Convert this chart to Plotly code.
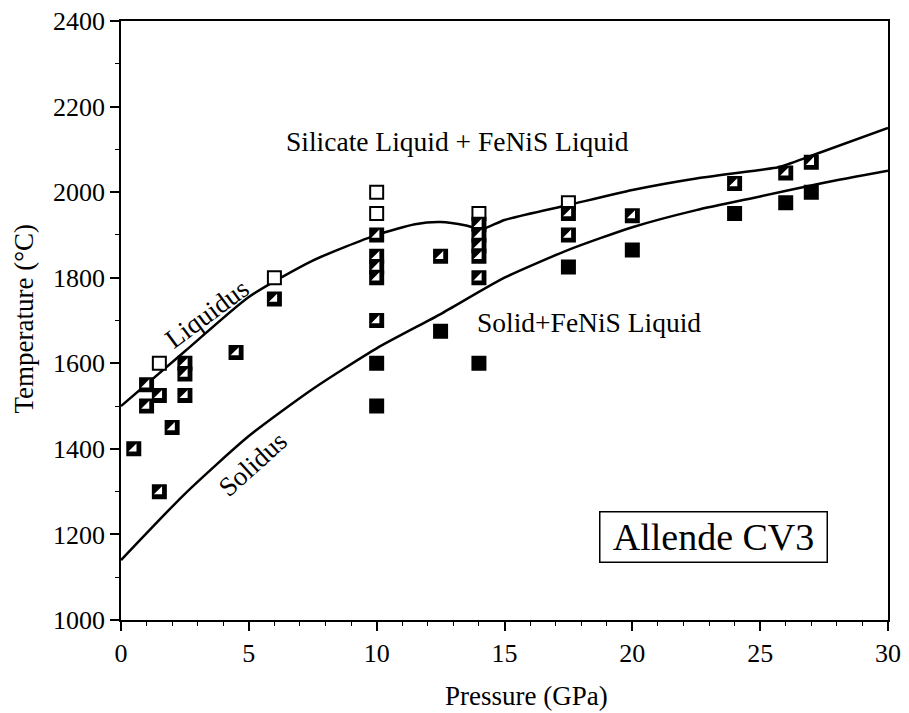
import plotly.graph_objects as go

# ---- data ----
open_x = [1.5, 6, 10, 10, 14, 17.5]
open_y = [1600, 1800, 2000, 1950, 1950, 1975]

half_x = [0.5, 1, 1, 1.5, 1.5, 2, 2.5, 2.5, 2.5, 4.5, 6,
          10, 10, 10, 10, 10, 12.5, 14, 14, 14, 14, 14,
          17.5, 17.5, 20, 24, 26, 27]
half_y = [1400, 1550, 1500, 1525, 1300, 1450, 1600, 1575, 1525, 1625, 1750,
          1900, 1850, 1825, 1800, 1700, 1850, 1925, 1900, 1875, 1850, 1800,
          1950, 1900, 1945, 2020, 2045, 2070]

filled_x = [10, 10, 12.5, 14, 17.5, 20, 24, 26, 27]
filled_y = [1600, 1500, 1675, 1600, 1825, 1865, 1950, 1975, 2000]

liquidus_x = [0, 2.5, 5, 7.5, 10, 11.5, 12.5, 13.5, 14.1, 15, 17.5, 20, 22.5, 25, 25.7, 27, 30]
liquidus_y = [1500, 1628, 1755, 1840, 1900, 1925, 1930, 1922, 1913, 1935, 1970, 2005, 2032, 2052, 2058, 2085, 2150]

solidus_x = [0, 2.5, 5, 7.5, 10, 12.5, 15, 17.5, 20, 22.5, 25, 27.5, 30]
solidus_y = [1140, 1295, 1430, 1540, 1635, 1715, 1800, 1865, 1918, 1958, 1990, 2022, 2050]

x_ticks = [0, 5, 10, 15, 20, 25, 30]
y_ticks = [1000, 1200, 1400, 1600, 1800, 2000, 2200, 2400]

FONT = "Liberation Serif, Times New Roman, serif"

fig = go.Figure()

fig.add_trace(go.Scatter(x=liquidus_x, y=liquidus_y, mode="lines",
                         line=dict(color="black", width=2.5, shape="spline", smoothing=0.6),
                         hoverinfo="skip", showlegend=False))
fig.add_trace(go.Scatter(x=solidus_x, y=solidus_y, mode="lines",
                         line=dict(color="black", width=2.5, shape="spline", smoothing=0.6),
                         hoverinfo="skip", showlegend=False))

# open squares
fig.add_trace(go.Scatter(x=open_x, y=open_y, mode="markers",
                         marker=dict(symbol="square", size=13, color="white",
                                     line=dict(color="black", width=2)),
                         showlegend=False))
# half-filled squares: black square with white lower-right triangle
fig.add_trace(go.Scatter(x=half_x, y=half_y, mode="markers",
                         marker=dict(symbol="square", size=13, color="black",
                                     line=dict(color="black", width=2)),
                         showlegend=False))
fig.add_trace(go.Scatter(x=half_x, y=half_y, mode="markers",
                         marker=dict(symbol="triangle-se", size=9, color="white",
                                     line=dict(width=0)),
                         hoverinfo="skip", showlegend=False))
# filled squares
fig.add_trace(go.Scatter(x=filled_x, y=filled_y, mode="markers",
                         marker=dict(symbol="square", size=13, color="black",
                                     line=dict(color="black", width=2)),
                         showlegend=False))

annos = [
    dict(x=13.17, y=2119, text="Silicate Liquid + FeNiS Liquid", xref="x", yref="y",
         showarrow=False, font=dict(size=27.5)),
    dict(x=13.86, y=1696, text="Solid+FeNiS Liquid", xref="x", yref="y",
         xanchor="left", showarrow=False, font=dict(size=27.5)),
    dict(x=3.35, y=1715, text="Liquidus", xref="x", yref="y", textangle=-36.5,
         showarrow=False, font=dict(size=27)),
    dict(x=5.16, y=1365, text="Solidus", xref="x", yref="y", textangle=-42,
         showarrow=False, font=dict(size=27)),
    dict(x=23.16, y=1194, text="Allende CV3", xref="x", yref="y", showarrow=False,
         font=dict(size=38), bordercolor="black", borderwidth=1.5, borderpad=2,
         width=222, height=45, bgcolor="white"),
    dict(x=0.5286, y=-0.1265, xref="paper", yref="paper", text="Pressure (GPa)",
         showarrow=False, font=dict(size=27), yanchor="middle"),
    dict(x=-0.127, y=0.5025, xref="paper", yref="paper", text="Temperature (°C)",
         showarrow=False, font=dict(size=27), textangle=-90, xanchor="center"),
]
for a in annos:
    a.setdefault("font", {})
    a["font"]["family"] = FONT
    a["font"]["color"] = "black"
    fig.add_annotation(**a)

axis_common = dict(showline=True, linecolor="black", linewidth=1.5, mirror=True,
                   ticks="outside", tickcolor="black", tickwidth=1.5, ticklen=9,
                   showgrid=False, zeroline=False, automargin=False,
                   ticklabeloverflow="allow",
                   tickfont=dict(family=FONT, size=26, color="black"))

fig.update_xaxes(range=[0, 30], tickvals=x_ticks, ticktext=[str(v) for v in x_ticks],
                 minor=dict(dtick=1, ticks="outside", ticklen=4, tickcolor="black", tickwidth=1),
                 **axis_common)
fig.update_yaxes(range=[1000, 2400], tickvals=y_ticks, ticktext=[str(v) for v in y_ticks],
                 minor=dict(dtick=100, ticks="outside", ticklen=4, tickcolor="black", tickwidth=1),
                 **axis_common)

# page body has an 8px margin, so the figure starts at (8, 8) in the window
fig.update_layout(width=901, height=705, plot_bgcolor="white", paper_bgcolor="white",
                  margin=dict(l=113, r=21, t=13, b=93, autoexpand=False), showlegend=False,
                  font=dict(family=FONT, color="black"))

fig.write_html("out.html")
